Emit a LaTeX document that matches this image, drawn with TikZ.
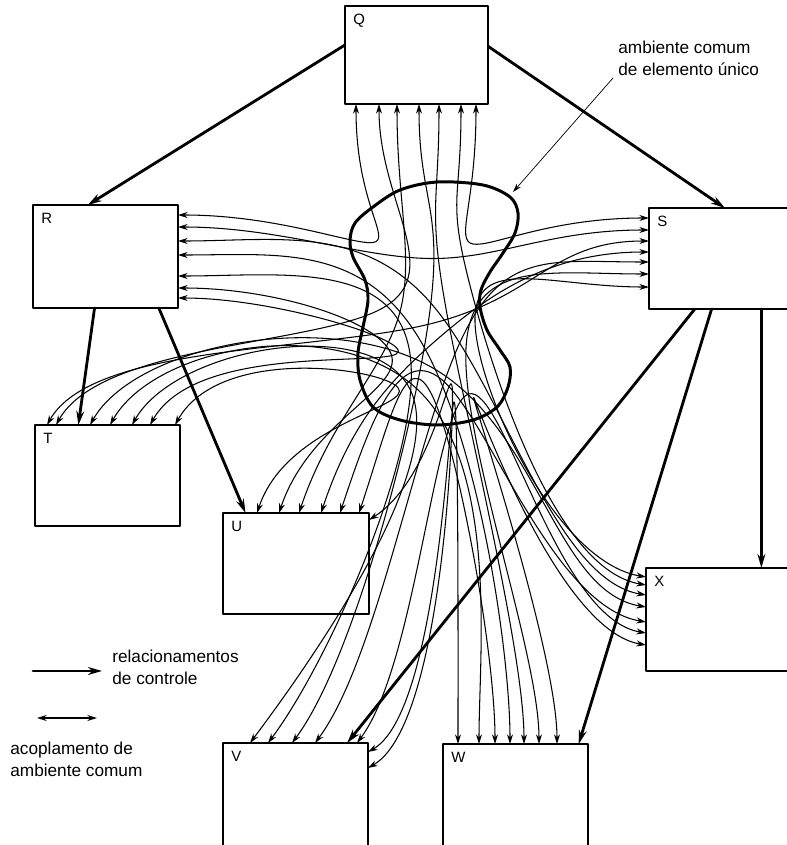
\documentclass[tikz,border=0pt]{standalone}
\usepackage{fontspec}
\setmainfont{Liberation Sans}
\usetikzlibrary{arrows.meta,calc}

\tikzset{
  box/.style={draw, fill=white, line width=0.8pt, inner sep=0pt, outer sep=0pt},
  tag/.style={inner sep=0pt, anchor=north west, font=\fontsize{8.5}{10}\selectfont},
  couple/.style={line width=0.6pt, {Stealth[length=5.5pt,width=3.4pt]}-{Stealth[length=5.5pt,width=3.4pt]}},
  ctrl/.style={line width=1.6pt, -{Stealth[length=8pt,width=4.5pt]}},
  note/.style={align=left, inner sep=0pt, anchor=north west, font=\fontsize{9.8}{12.5}\selectfont},
}

\begin{document}
\begin{tikzpicture}[x=0.02cm,y=-0.02cm,line cap=round,line join=round]
  \useasboundingbox (0,0) rectangle (787,845);
  % elementos
  \node[box, minimum width=2.86cm, minimum height=1.96cm] (Q) at (416.5,55) {};
  \node[box, minimum width=2.9cm, minimum height=2.06cm] (R) at (105.5,256.5) {};
  \node[box, minimum width=2.86cm, minimum height=2.02cm] (S) at (720.5,258.5) {};
  \node[box, minimum width=2.9cm, minimum height=2.02cm] (T) at (107.5,475.5) {};
  \node[box, minimum width=2.92cm, minimum height=2.02cm] (U) at (296,563.5) {};
  \node[box, minimum width=2.9cm, minimum height=2.14cm] (V) at (295.5,796.5) {};
  \node[box, minimum width=2.9cm, minimum height=2.12cm] (W) at (515.5,797) {};
  \node[box, minimum width=2.92cm, minimum height=2.06cm] (X) at (719,619.5) {};
  \foreach \b in {Q,R,S,T,U,V,W,X}
    \node[tag] (\b-tag) at ([shift={(4.5pt,-4.5pt)}]\b.north west) {\b};

  % portas: ponto na caixa, controle de saida, entrada no ambiente
  \foreach \n/\x in {R/356,T/379,U/397,V/419,W/439,X/461,S/476} {
    \coordinate (Q-\n) at (\x,104); \coordinate (Q-\n-o) at (\x,204);
    \coordinate (Q-\n-e) at (\x,240);}
  \foreach \n/\y in {Q/215,S/227,X/241,W/255,V/276,U/288,T/298} {
    \coordinate (R-\n) at (178,\y); \coordinate (R-\n-o) at (278,\y);
    \coordinate (R-\n-e) at (390,\y+30);}
  \foreach \n/\y in {Q/218,R/230,T/241,U/252,V/262,W/274,X/287} {
    \coordinate (S-\n) at (649,\y); \coordinate (S-\n-o) at (549,\y);
    \coordinate (S-\n-e) at (470,\y+30);}
  \foreach \n/\x in {S/47,Q/56,X/90,W/110,V/132,R/150,U/175} {
    \coordinate (T-\n) at (\x,425); \coordinate (T-\n-o) at (\x+45,345);
    \coordinate (T-\n-e) at (\x*0.25+365,380);}
  \foreach \n/\x in {T/257,R/279,Q/299,S/321,X/340,W/359} {
    \coordinate (U-\n) at (\x,513); \coordinate (U-\n-o) at (\x+30,423);
    \coordinate (U-\n-e) at (\x*0.3+310,395);}
  \coordinate (U-V) at (369,520); \coordinate (U-V-o) at (439,475);
  \coordinate (U-V-e) at (430,400);
  \foreach \n/\x in {T/250,R/268,Q/292,S/315,X/357} {
    \coordinate (V-\n) at (\x,743); \coordinate (V-\n-o) at (\x+60,663);
    \coordinate (V-\n-e) at (\x*0.3+350,405);}
  \coordinate (V-W) at (368,752); \coordinate (V-W-o) at (438,712);
  \coordinate (V-W-e) at (470,405);
  \coordinate (V-U) at (368,768); \coordinate (V-U-o) at (438,728);
  \coordinate (V-U-e) at (475,400);
  \foreach \n/\x in {V/458,T/479,U/495,R/510,Q/524,S/539,X/557} {
    \coordinate (W-\n) at (\x,744); \coordinate (W-\n-o) at (\x,654);
    \coordinate (W-\n-e) at (\x*0.3+300,400);}
  \foreach \n/\y in {S/577,Q/585,R/595,T/607,U/622,V/633,W/645} {
    \coordinate (X-\n) at (646,\y); \coordinate (X-\n-o) at (556,\y-15);
    \coordinate (X-\n-e) at (480,\y-250);}

  % acoplamentos de ambiente comum
  \foreach \a/\b in {Q/R,Q/S,Q/T,Q/U,Q/V,Q/W,Q/X,R/S,R/T,R/U,R/V,R/W,R/X,
                     S/T,S/U,S/V,S/W,S/X,T/U,T/V,T/W,T/X,U/V,U/W,U/X,V/W,V/X,W/X} {
    \coordinate (m) at ($(\a-\b-e)!.5!(\b-\a-e)$);
    \draw[couple] (\a-\b) .. controls (\a-\b-o) and ($(m)+0.25*(\a-\b-o)-0.25*(\b-\a-o)$)
      .. (m) .. controls ($(m)-0.25*(\a-\b-o)+0.25*(\b-\a-o)$) and (\b-\a-o) .. (\b-\a);
  }

  % ambiente comum de elemento unico
  \draw[line width=1.7pt] plot[smooth cycle, tension=0.55] coordinates {
    (437,182) (483,185) (510,197) (518,213) (515,233) (503,253) (490,272)
    (481,290) (480,307) (487,330) (500,350) (510,367) (508,387) (497,407)
    (473,420) (437,425) (400,420) (373,407) (360,380) (358,353) (363,327)
    (368,300) (365,280) (353,257) (350,240) (355,223) (373,207) (400,190)};

  % relacionamentos de controle
  \draw[ctrl] (Q.172) -- (R.109);
  \draw[ctrl] (Q.7) -- (S.85);
  \draw[ctrl] (R.258) -- (T.120);
  \draw[ctrl] (R.316) -- (U.135);
  \draw[ctrl] (S.309) -- (S.309 |- X.north);
  \draw[ctrl] (S.243) -- (V.46);
  \draw[ctrl] (S.260) -- (W.40);

  % rotulo do ambiente
  \node[note] (amb) at (618,41) {ambiente comum\\de elemento único};
  \coordinate (amb-p) at (613,78);
  \coordinate (blob-p) at (513,192);
  \draw[line width=0.4pt, -{Stealth[length=5pt,width=3pt]}] (amb-p) -- (blob-p);

  % legenda
  \coordinate (lg1a) at (33,671); \coordinate (lg1b) at (102,671);
  \draw[ctrl] (lg1a) -- (lg1b);
  \node[note] (lg1) at (112,650) {relacionamentos\\de controle};
  \coordinate (lg2a) at (37,718); \coordinate (lg2b) at (97,718);
  \draw[couple, line width=0.9pt] (lg2a) -- (lg2b);
  \node[note] (lg2) at (10,742) {acoplamento de\\ambiente comum};
\end{tikzpicture}
\end{document}
